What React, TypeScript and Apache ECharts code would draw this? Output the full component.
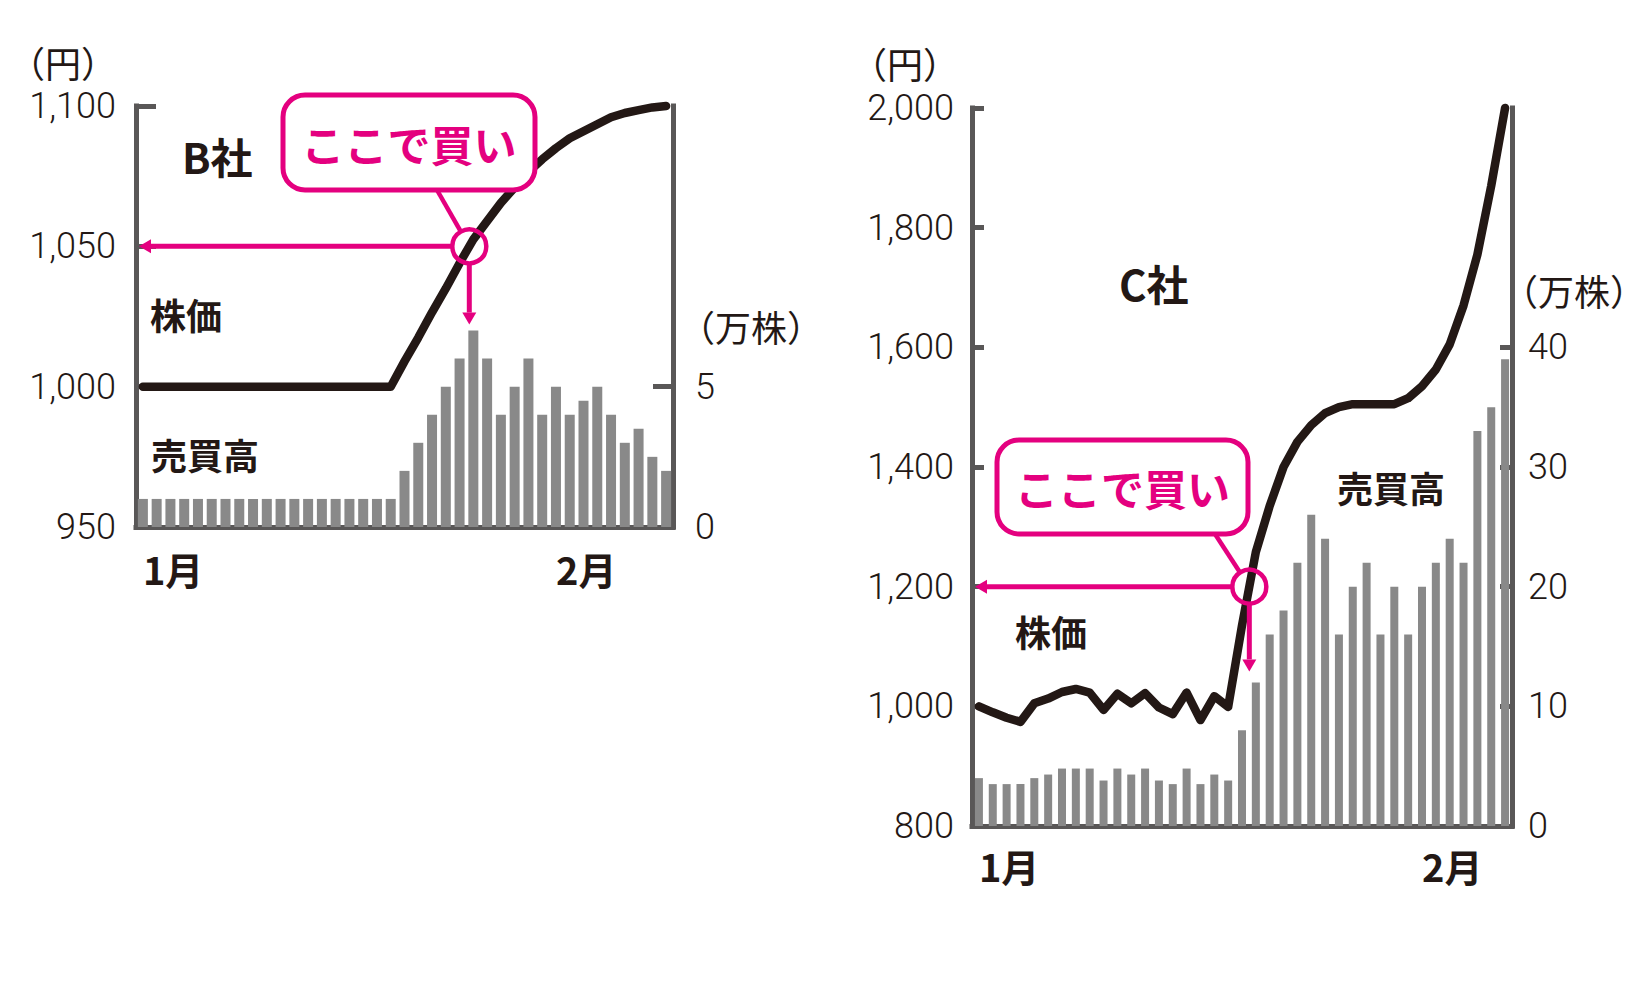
import { useEffect, useRef } from "react";
import * as echarts from "echarts";

// 39 trading days, Jan -> Feb
const days = Array.from({ length: 39 }, (_, i) => String(i + 1));
const bMonthLabels: Record<number, string> = { 0: "1月", 30: "2月" };
const cMonthLabels: Record<number, string> = { 0: "1月", 32: "2月" };

// B社
const bPrice = [
  1000, 1000, 1000, 1000, 1000, 1000, 1000, 1000, 1000, 1000,
  1000, 1000, 1000, 1000, 1000, 1000, 1000, 1000, 1000, 1009,
  1017.5, 1026.5, 1035, 1044, 1052.5, 1059, 1065.5, 1071, 1076.5, 1081,
  1085, 1088.5, 1091, 1093.5, 1096, 1097.5, 1098.5, 1099.5, 1100,
];
const bVolume = [
  1, 1, 1, 1, 1, 1, 1, 1, 1, 1,
  1, 1, 1, 1, 1, 1, 1, 1, 1, 2,
  3, 4, 5, 6, 7, 6, 4, 5, 6, 4,
  5, 4, 4.5, 5, 4, 3, 3.5, 2.5, 2,
];

// C社
const cPrice = [
  1000, 990, 981, 974, 1005, 1013, 1024, 1029, 1023, 994,
  1021, 1005, 1022, 998, 987, 1023, 977, 1017, 999, 1135,
  1258, 1335, 1400, 1442, 1470, 1490, 1500, 1505, 1505, 1505,
  1505, 1515, 1535, 1563, 1605, 1670, 1755, 1870, 2000,
];
const cVolume = [
  4, 3.5, 3.5, 3.5, 4, 4.3, 4.8, 4.8, 4.8, 3.8,
  4.8, 4.3, 4.8, 3.8, 3.5, 4.8, 3.5, 4.3, 3.8, 8,
  12, 16, 18, 22, 26, 24, 16, 20, 22, 16,
  20, 16, 20, 22, 24, 22, 33, 35, 39,
];

const bPriceTicks = [1000, 1050, 1100];
const bVolumeLabels = [0, 5];
const bVolumeTicks = [5];
const cPriceTicks = [1000, 1200, 1400, 1600, 1800, 2000];
const cVolumeLabels = [0, 10, 20, 30, 40];
const cVolumeTicks = [10, 20, 30, 40];

const bBuyPrice = 1050;
const cBuyPrice = 1200;

const INK = "#231815";
const AXIS = "#595757";
const BAR = "#898989";
const MAGENTA = "#e4007f";
const JP = '"Noto Sans CJK JP", "Noto Sans", sans-serif';
const NUM = 'Roboto, "Noto Sans", sans-serif';

const gridB = { left: 136, top: 106, width: 537, height: 421 };
const gridC = { left: 972, top: 108, width: 540, height: 718 };

const valueAxis = (
  gridIndex: number,
  position: "left" | "right",
  min: number,
  max: number,
  interval: number,
  ticks: number[],
  tickLen: number,
  margin: number,
  labels?: number[]
) => ({
  type: "value",
  gridIndex,
  position,
  min,
  max,
  interval,
  splitLine: { show: false },
  axisLine: { show: true, lineStyle: { color: AXIS, width: 5, cap: "square" } },
  axisTick: {
    show: true,
    inside: true,
    length: tickLen,
    customValues: ticks,
    lineStyle: { color: AXIS, width: 5 },
  },
  axisLabel: {
    margin,
    color: INK,
    fontFamily: NUM,
    fontSize: 36,
    fontWeight: 300,
    formatter: (v: number) => v.toLocaleString("en-US"),
    ...(labels ? { customValues: labels } : {}),
  },
});

const categoryAxis = (gridIndex: number, months: Record<number, string>, margin: number) => ({
  type: "category",
  gridIndex,
  data: days,
  boundaryGap: true,
  axisLine: { onZero: false, lineStyle: { color: AXIS, width: 5, cap: "square" } },
  axisTick: { show: false },
  axisLabel: {
    interval: 0,
    align: "left",
    margin,
    color: INK,
    fontFamily: JP,
    fontSize: 38,
    fontWeight: "bold",
    formatter: (_v: string, i: number) => months[i] ?? "",
  },
});

const priceLine = (xAxisIndex: number, yAxisIndex: number, data: number[]) => ({
  type: "line",
  xAxisIndex,
  yAxisIndex,
  data,
  symbol: "none",
  clip: false,
  lineStyle: { color: INK, width: 8.5, cap: "round", join: "round" },
  z: 3,
});

const volumeBars = (xAxisIndex: number, yAxisIndex: number, data: number[], barWidth: number) => ({
  type: "bar",
  xAxisIndex,
  yAxisIndex,
  data,
  barWidth,
  itemStyle: { color: BAR },
  z: 1,
});

function buyMarker(
  chart: echarts.ECharts,
  lineSeries: number,
  barSeries: number,
  price: number[],
  volume: number[],
  buyPrice: number,
  axisX: number,
  box: { x: number; y: number; width: number; height: number },
  anchor: [number, number],
  tipGap: number
) {
  const k = price.findIndex((v, i) => i < price.length - 1 && v <= buyPrice && price[i + 1] > buyPrice);
  const f = (buyPrice - price[k]) / (price[k + 1] - price[k]);
  const a = chart.convertToPixel({ seriesIndex: lineSeries }, [k, buyPrice]) as number[];
  const b = chart.convertToPixel({ seriesIndex: lineSeries }, [k + 1, buyPrice]) as number[];
  const cx = a[0] + (b[0] - a[0]) * f;
  const cy = a[1];
  const j = Math.round(k + f);
  const barTop = (chart.convertToPixel({ seriesIndex: barSeries }, [j, volume[j]]) as number[])[1];
  const tipY = barTop - tipGap;
  const R = 17;
  const head = 12;
  const half = 7;
  const dx = cx - anchor[0];
  const dy = cy - anchor[1];
  const d = Math.hypot(dx, dy);
  const stroke = { stroke: MAGENTA, lineWidth: 5 };
  const tip = axisX + 3;
  return [
    { type: "line", shape: { x1: cx - R, y1: cy, x2: tip + head, y2: cy }, style: stroke },
    {
      type: "polygon",
      shape: { points: [[tip, cy], [tip + head, cy - half], [tip + head, cy + half]] },
      style: { fill: MAGENTA },
    },
    { type: "line", shape: { x1: cx, y1: cy + R, x2: cx, y2: tipY - head }, style: stroke },
    {
      type: "polygon",
      shape: { points: [[cx, tipY], [cx - half, tipY - head], [cx + half, tipY - head]] },
      style: { fill: MAGENTA },
    },
    {
      type: "line",
      shape: { x1: anchor[0], y1: anchor[1], x2: cx - (dx / d) * R, y2: cy - (dy / d) * R },
      style: { stroke: MAGENTA, lineWidth: 4.5 },
    },
    { type: "circle", shape: { cx, cy, r: R }, style: { fill: "none", stroke: MAGENTA, lineWidth: 4.5 } },
    { type: "rect", shape: { ...box, r: 22 }, style: { fill: "#fff", stroke: MAGENTA, lineWidth: 5 } },
    {
      type: "text",
      x: box.x + box.width / 2,
      y: box.y + box.height / 2,
      style: {
        text: "ここで買い",
        fill: MAGENTA,
        fontSize: 43,
        fontWeight: "bold",
        fontFamily: JP,
        align: "center",
        verticalAlign: "middle",
      },
    },
  ].map((el) => ({ ...el, z: 100 }));
}

const label = (text: string, x: number, y: number, size: number, bold: boolean, align = "left") => ({
  type: "text",
  x,
  y,
  z: 50,
  style: {
    text,
    fill: INK,
    fontSize: size,
    fontWeight: bold ? "bold" : "normal",
    fontFamily: JP,
    align,
    verticalAlign: "middle",
  },
});

export default function App() {
  const chartRef = useRef<HTMLDivElement>(null);

  useEffect(() => {
    if (!chartRef.current) return;
    const chart = echarts.init(chartRef.current, null, { renderer: "svg" });

    chart.setOption({
      animation: false,
      grid: [gridB, gridC],
      xAxis: [categoryAxis(0, bMonthLabels, 22), categoryAxis(1, cMonthLabels, 20)],
      yAxis: [
        valueAxis(0, "left", 950, 1100, 50, bPriceTicks, 20, 20),
        valueAxis(0, "right", 0, 15, 5, bVolumeTicks, 20, 22, bVolumeLabels),
        valueAxis(1, "left", 800, 2000, 200, cPriceTicks, 12, 18),
        valueAxis(1, "right", 0, 60, 10, cVolumeTicks, 12, 16, cVolumeLabels),
      ],
      series: [
        volumeBars(0, 1, bVolume, 10),
        priceLine(0, 0, bPrice),
        volumeBars(1, 3, cVolume, 8),
        priceLine(1, 2, cPrice),
      ],
    });

    chart.setOption({
      graphic: [
        label("（円）", 63, 62, 36, false, "center"),
        label("（万株）", 751, 326, 36, false, "center"),
        label("B社", 182, 155, 42, true),
        label("株価", 150, 314, 36, true),
        label("売買高", 151, 454, 36, true),
        label("（円）", 905, 63, 36, false, "center"),
        label("（万株）", 1574, 290, 36, false, "center"),
        label("C社", 1119, 282, 42, true),
        label("株価", 1015, 631, 36, true),
        label("売買高", 1337, 487, 36, true),
        ...buyMarker(chart, 1, 0, bPrice, bVolume, bBuyPrice, gridB.left,
          { x: 283, y: 95, width: 252, height: 95 }, [437, 190], 6),
        ...buyMarker(chart, 3, 2, cPrice, cVolume, cBuyPrice, gridC.left,
          { x: 997, y: 440, width: 251, height: 94 }, [1215, 534], 11),
      ],
    });

    return () => chart.dispose();
  }, []);

  return (
    <div
      ref={chartRef}
      style={{ position: "absolute", left: 0, top: 0, width: 1650, height: 992, background: "#fff" }}
    />
  );
}
